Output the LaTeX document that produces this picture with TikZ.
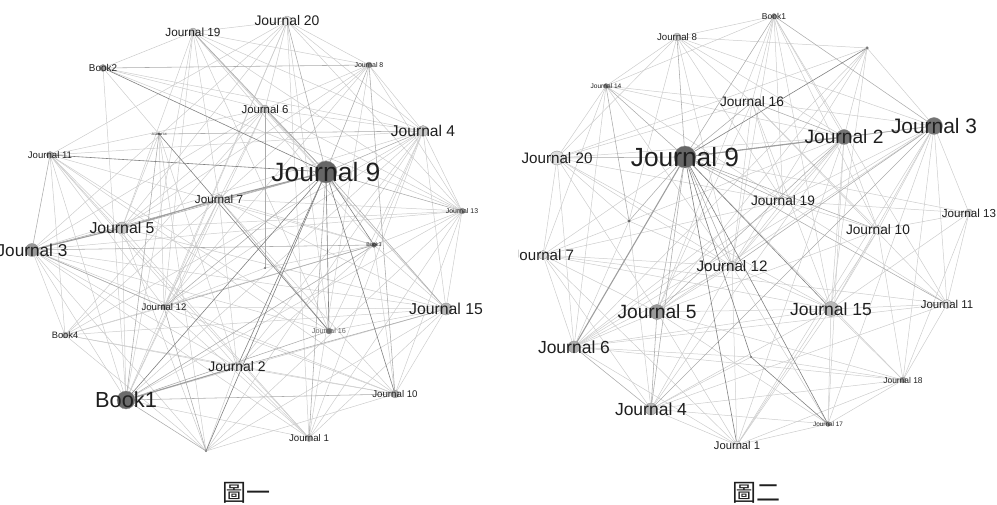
\documentclass[tikz,border=0pt]{standalone}
\usepackage{fontspec}
\setmainfont{Liberation Sans}
\newfontfamily\cjkfont{Noto Sans CJK TC}
\pgfdeclarelayer{edgelayer}
\pgfsetlayers{edgelayer,main}
\newcommand\jsz[1]{\fontsize{#1}{#1}\selectfont}
\tikzset{
  vtx/.style={circle, inner sep=0pt, draw=black!45, line width=0.3pt},
  lbl/.style={text=black!88, inner sep=0pt},
  ea/.style={draw=black!20, line width=0.5pt},
  eb/.style={draw=black!33, line width=0.55pt},
  ec/.style={draw=black!50, line width=0.6pt},
  ed/.style={draw=black!38, line width=1.1pt},
}
% name, x, y, diameter, fill, fontsize, text
\newcommand\vx[7]{\node[vtx, minimum size=#4pt, fill=#5,
   label={[lbl,font=\jsz{#6}]center:#7}] (#1) at (#2,#3) {};}
\newcommand\dotvx[5]{\node[vtx, minimum size=#4pt, fill=#5] (#1) at (#2,#3) {};}
\begin{document}
\begin{tikzpicture}[x=1pt,y=-1pt]
\useasboundingbox (0,0) rectangle (997,505);
% ---------------- left graph ----------------
\vx{L19}{193}{32}{8}{black!22}{11.8}{Journal 19}
\vx{L20}{287}{21}{10}{black!8}{13.9}{Journal 20}
\vx{LB2}{103}{68}{7}{black!40}{9.9}{Book2}
\vx{L8}{369}{65}{6}{black!45}{7.0}{Journal 8}
\vx{L6}{265}{109}{8}{black!22}{11.4}{Journal 6}
\vx{L4}{423}{131}{11}{black!22}{15.6}{Journal 4}
\vx{L14}{159}{134}{3}{black!65}{3.3}{Journal 14}
\vx{L11}{50}{155}{7}{black!35}{9.6}{Journal 11}
\vx{L9}{326}{172}{22}{black!60}{26.5}{Journal 9}
\vx{L7}{219}{199}{9}{black!18}{11.7}{Journal 7}
\vx{L13}{462}{211}{6}{black!40}{6.9}{Journal 13}
\vx{L5}{122}{228}{12}{black!22}{15.8}{Journal 5}
\vx{L3}{32}{250}{13}{black!40}{17.2}{Journal 3}
\vx{LB3}{374}{245}{5}{black!60}{5.3}{Book3}
\dotvx{LP}{265}{268}{2}{black!70}
\vx{L12}{164}{307}{6}{black!40}{9.6}{Journal 12}
\vx{L15}{446}{309}{12}{black!28}{15.8}{Journal 15}
\vx{LB4}{65}{335}{6}{black!28}{9.3}{Book4}
\node[vtx, minimum size=6pt, fill=black!55,
   label={[lbl,text=black!60,font=\jsz{7.3}]center:Journal 16}] (L16) at (329,331) {};
\vx{L2}{237}{367}{8}{black!10}{13.9}{Journal 2}
\vx{L10}{395}{394}{8}{black!35}{9.7}{Journal 10}
\vx{LB1}{126}{400}{18}{black!58}{21.8}{Book1}
\vx{L1}{309}{438}{7}{black!28}{9.7}{Journal 1}
\dotvx{LQ}{206}{451}{1.6}{black!70}
% ---------------- right graph ----------------
\vx{RB1}{774}{16}{5}{black!45}{8.5}{Book1}
\vx{R8}{677}{37}{8}{black!18}{9.7}{Journal 8}
\dotvx{RX}{867}{48}{3}{black!55}
\vx{R14}{606}{86}{5}{black!50}{6.6}{Journal 14}
\vx{R16}{752}{102}{8}{black!6}{13.7}{Journal 16}
\vx{R2}{844}{137}{15}{black!55}{19.2}{Journal 2}
\vx{R3}{934}{126}{17}{black!55}{20.9}{Journal 3}
\vx{R9}{685}{157}{22}{black!60}{26.3}{Journal 9}
\vx{R20}{557}{158}{14}{black!12}{15.2}{Journal 20}
\vx{R19}{783}{201}{9}{black!6}{13.7}{Journal 19}
\vx{R10}{878}{230}{9}{black!6}{13.7}{Journal 10}
\vx{R13}{969}{213}{8}{black!20}{11.6}{Journal 13}
\dotvx{RY}{629}{221}{3}{black!65}
\begin{scope}
\clip (518,0) rectangle (997,505);
\vx{R7}{543}{255}{9}{black!12}{15.1}{Journal 7}
\end{scope}
\vx{R12}{732}{266}{10}{black!18}{15.2}{Journal 12}
\vx{R5}{657}{312}{15}{black!40}{19.2}{Journal 5}
\vx{R15}{831}{309}{15}{black!28}{17.5}{Journal 15}
\vx{R11}{947}{304}{9}{black!10}{11.4}{Journal 11}
\vx{R6}{574}{347}{12}{black!32}{17.5}{Journal 6}
\dotvx{RZ}{751}{357}{2}{black!70}
\vx{R18}{903}{380}{6}{black!40}{8.4}{Journal 18}
\vx{R4}{651}{409}{12}{black!28}{17.5}{Journal 4}
\vx{R17}{828}{424}{5}{black!45}{6.4}{Journal 17}
\vx{R1}{737}{445}{8}{black!8}{11.2}{Journal 1}
% ---------------- captions ----------------
\node[lbl, font=\cjkfont\jsz{24}] (cap1) at (246,493) {圖一};
\node[lbl, font=\cjkfont\jsz{24}] (cap2) at (756,493) {圖二};
% ---------------- edges ----------------
\begin{pgfonlayer}{edgelayer}
\foreach \a/\b in {L19/LB2, L19/L20, L19/L8, L19/L5, L19/L7, L19/L12, L19/L16, L19/LB3, L19/L13, L19/L4, L19/L6,
  LB2/L14, LB2/LB1, LB2/L6, LB2/L4, LB2/L13,
  L11/L20, L11/LB4, L11/L12, L11/L1, L11/L2, L11/L16, L11/L10, L11/L5, L11/LB1, L11/LB3, L11/L6,
  L14/L5, L14/L12, L14/L2,
  L5/LB1, L5/L1, L5/L15, L5/L20, L5/L8, L5/L13,
  L3/LB4, L3/L12, L3/L2, L3/L16, L3/L10, L3/L1, L3/L15, L3/L4, L3/L13, L3/L20, L3/L6,
  L7/L12, L7/LB1, L7/L2, L7/L10, L7/L13, L7/LB3, L7/L15, L7/LB4, L7/L8,
  L6/L20, L6/L8, L6/L4, L6/L5, L6/L12, L6/L13, L6/LB1, L6/LB4, L6/L15,
  LP/LB3, LP/L12,
  L16/L15, L16/L20, L16/L4,
  LB3/L15, LB3/L13, LB3/L10, LB3/L4, LB3/L2, LB3/LB4,
  L15/L4, L15/L13, L15/L10, L15/LQ, L15/L1, L15/L19,
  L10/L2, L10/L13, L10/L12, L10/LB4,
  L1/L4, L1/L13, L1/L20, L1/LB1, L1/L2, L1/L12, L1/L8,
  LQ/L14, LQ/L4, LQ/L13, LQ/L3, LQ/LB4, LQ/L10, LQ/L2, LQ/L5,
  LB1/L15, LB1/L13, LB1/L4, LB1/L19, LB1/L20, LB1/L3,
  LB4/L12, LB4/L4, LB4/L2, LB4/L15,
  L12/L15, L20/L8, L20/L13, L20/L4, L20/L12, L8/L4, L8/L13, L8/L12, L4/L13, L4/L2, L4/L11, L4/L12}
  \draw[ea] (\a) -- (\b);
\foreach \a/\b in {L9/L12, L9/L1, L9/L6, L9/L4, L9/L20, L9/L19, L9/L5, L9/L15, L9/L13, L9/L3, L9/L8,
  LB3/L12, LB3/L3, LB3/LB1, L15/L2, L7/L16, L14/L4, LB2/L8, L11/L3, LQ/LB1, LQ/L12, L10/L8,
  LB1/L10, LB1/L16, LB1/L14, L6/LP, L12/L3}
  \draw[eb] (\a) -- (\b);
\foreach \a/\b in {L9/LB1, L9/LQ, L9/LB3, L14/L16, L11/L9, LB2/L9, L9/L16, L9/L10, L9/L2}
  \draw[ec] (\a) -- (\b);
\foreach \a/\b in {L5/L7, L7/L9, L5/L3, LB1/L2}
  \draw[ed] (\a) -- (\b);
% right
\foreach \a/\b in {RB1/R8, RB1/R2, RB1/R19, RB1/R10, RB1/R16, RB1/R12, RB1/R15, RB1/R14, RB1/R11, RB1/R5,
  R8/RX, R8/R14, R8/R20, R8/R16, R8/R2, R8/R3, R8/R19, R8/RY, R8/R12,
  R14/R20, R14/R7, R14/R2, R14/R12, R14/R6, R14/R19, R14/R16,
  RX/R2, RX/R3, RX/R5, RX/R20, RX/R12, RX/R15, RX/R6,
  R9/R13, R9/R18, R9/R7,
  R20/R7, R20/R6, R20/R5, R20/R12, R20/R19, R20/R2, R20/R16, R20/R15, R20/RY,
  R3/R13, R3/R10, R3/R15, R3/R11, R3/R18, R3/R19, R3/R5, R3/R6, R3/R16, R3/R1,
  R2/R12, R2/R15, R2/R19, R2/R10, R2/R4, R2/R1, R2/R17, R2/R6,
  R16/R19, R16/R10, R16/R12, R16/R5, R16/R11,
  R19/R12, R19/R10, R19/R13, R19/R11, R19/R7, R19/R6,
  R7/R6, R7/R5, R7/R12, R7/R1, R7/R4, R7/R15, R7/R11, R7/R2,
  R6/R5, R6/R1, R6/R15, R6/R11, R6/R18, R6/R12, R6/RZ,
  R5/R15, R5/R12, R5/R1, R5/R17, R5/R18, R5/R10,
  R12/R4, R12/R17, R12/R15, R12/R1,
  R15/R4, R15/R1, R15/R17, R15/R18, R15/R11, R15/R10, R15/R13, R15/R16,
  RZ/R4, RZ/R18,
  R4/R18, R4/R17, R4/R1, R4/R11,
  R1/R17, R1/R18, R1/R10,
  R17/R18, R17/R3,
  R18/R11, R18/R10, R18/R13,
  R11/R13, R13/R10, RY/R6, RY/R12, RY/R4}
  \draw[ea] (\a) -- (\b);
\foreach \a/\b in {R9/R3, R9/R16, R9/RB1, R9/R8, R9/R14, R9/R20, R9/RY, R9/R5, R9/R4, R9/R12, R9/R10, R9/R11, R9/R19,
  R3/R2, R3/R4, R3/R12, R3/RB1, R2/R5, R2/R16, RY/R14, R6/R4, R5/R4}
  \draw[eb] (\a) -- (\b);
\foreach \a/\b in {R9/RZ, RZ/R17, RX/R9, R9/R17, R9/R1, R9/R15}
  \draw[ec] (\a) -- (\b);
\foreach \a/\b in {R9/R2, R9/R6}
  \draw[ed] (\a) -- (\b);
\end{pgfonlayer}
\end{tikzpicture}
\end{document}
